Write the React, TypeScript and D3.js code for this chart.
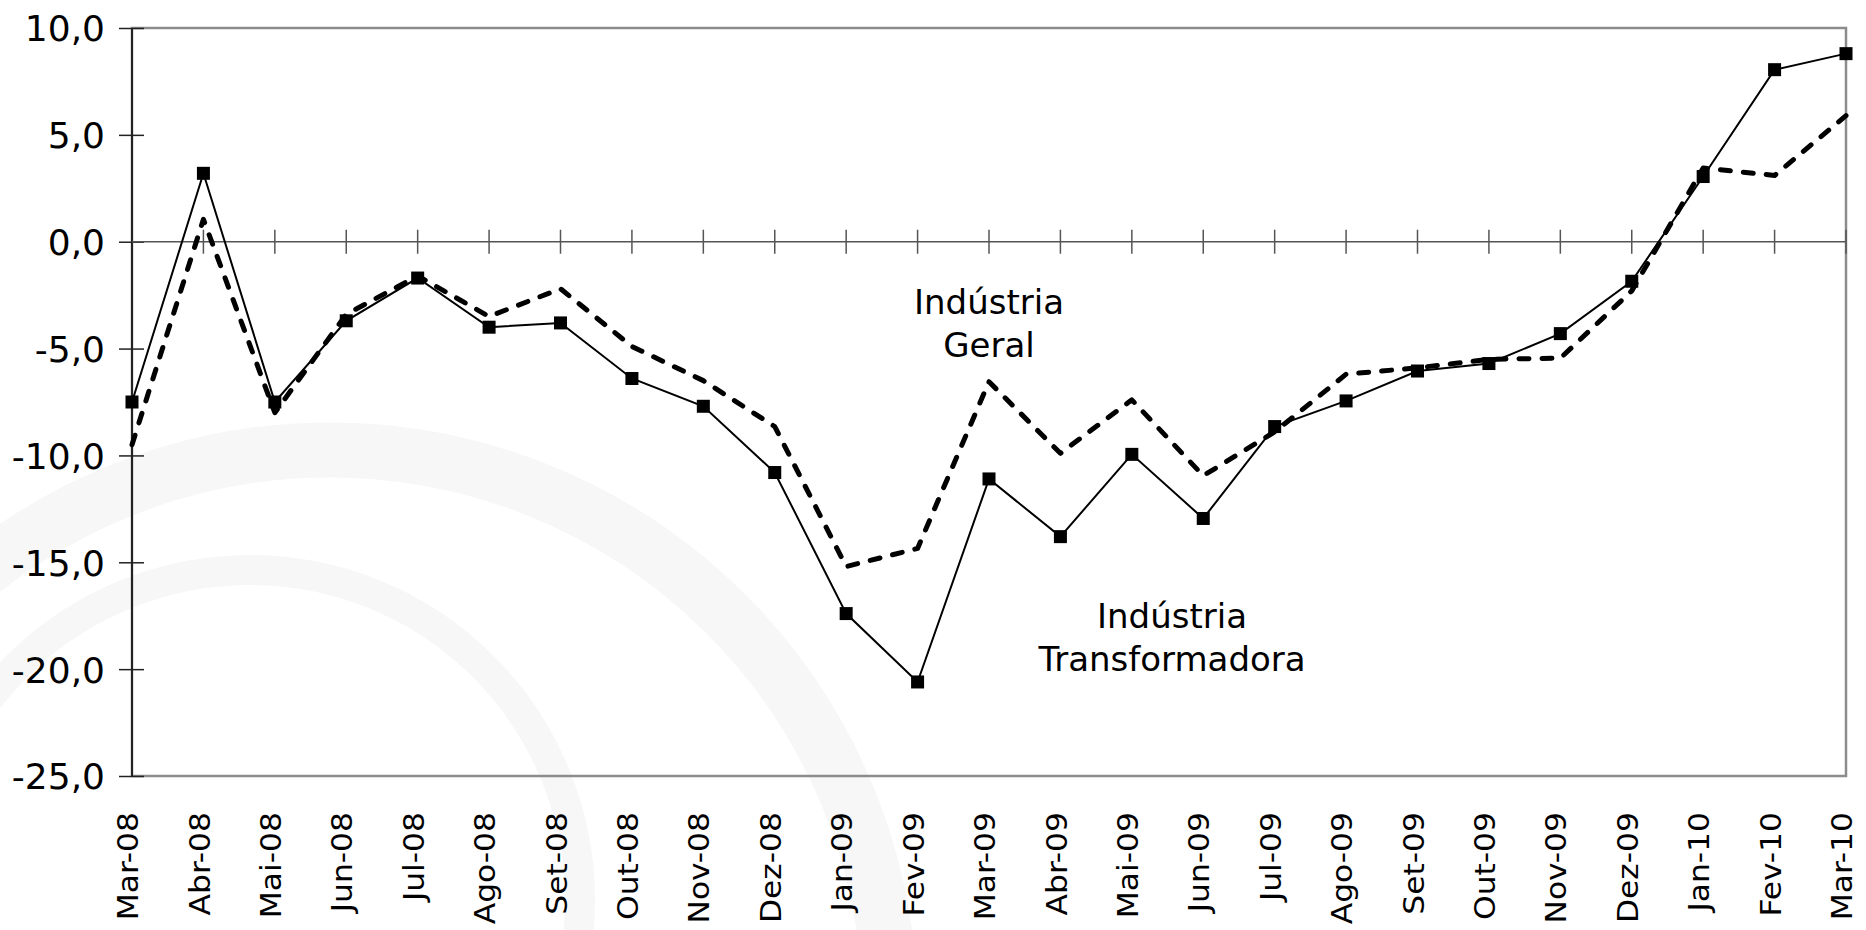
import * as d3 from "d3";
import React, { useEffect, useRef } from "react";

// month labels on the x axis
const months = [
  "Mar-08", "Abr-08", "Mai-08", "Jun-08", "Jul-08", "Ago-08", "Set-08", "Out-08",
  "Nov-08", "Dez-08", "Jan-09", "Fev-09", "Mar-09", "Abr-09", "Mai-09", "Jun-09",
  "Jul-09", "Ago-09", "Set-09", "Out-09", "Nov-09", "Dez-09", "Jan-10", "Fev-10", "Mar-10",
];

// Indústria Transformadora (solid line with square markers)
const transformadora = [
  -7.5, 3.2, -7.5, -3.7, -1.7, -4.0, -3.8, -6.4, -7.7, -10.8, -17.4, -20.6, -11.1,
  -13.8, -9.95, -12.95, -8.65, -7.45, -6.05, -5.7, -4.3, -1.85, 3.05, 8.05, 8.8,
];

// Indústria Geral (dashed line)
const geral = [
  -9.5, 1.05, -8.0, -3.4, -1.6, -3.5, -2.2, -4.9, -6.5, -8.65, -15.2, -14.35, -6.55,
  -9.9, -7.4, -10.95, -8.9, -6.2, -5.9, -5.5, -5.45, -2.3, 3.45, 3.1, 5.9,
];

const yTicks = [10, 5, 0, -5, -10, -15, -20, -25];

const App = () => {
  const ref = useRef<SVGSVGElement>(null);

  useEffect(() => {
    document.body.style.margin = "0";

    const width = 1866;
    const height = 930;
    const margin = { top: 28, right: 20, bottom: 154, left: 132 };
    const innerW = width - margin.left - margin.right;
    const innerH = height - margin.top - margin.bottom;

    const svg = d3.select(ref.current);
    svg.selectAll("*").remove();
    svg.attr("width", width).attr("height", height);

    svg.append("rect").attr("width", width).attr("height", height).attr("fill", "#ffffff");

    // faint watermark in the background
    const wm = svg.append("g").attr("fill", "none").attr("stroke", "#f7f7f7");
    wm.append("circle").attr("cx", 330).attr("cy", 1010).attr("r", 560).attr("stroke-width", 55);
    wm.append("circle").attr("cx", 250).attr("cy", 900).attr("r", 330).attr("stroke-width", 30);

    const g = svg.append("g").attr("transform", `translate(${margin.left}, ${margin.top})`);

    // Scales
    const xScale = d3.scalePoint().domain(months).range([0, innerW]);
    const yScale = d3.scaleLinear().domain([-25, 10]).range([innerH, 0]);

    // plot border (grey) and left axis (black)
    g.append("rect")
      .attr("width", innerW)
      .attr("height", innerH)
      .attr("fill", "none")
      .attr("stroke", "#8c8c8c")
      .attr("stroke-width", 2.5);
    g.append("line")
      .attr("x1", 0).attr("x2", 0)
      .attr("y1", 0).attr("y2", innerH)
      .attr("stroke", "#000")
      .attr("stroke-width", 1.5);

    // y ticks and labels
    const yAxis = d3.axisLeft(yScale)
      .tickValues(yTicks)
      .tickSize(0)
      .tickFormat((d) => d3.format(".1f")(d as number).replace(".", ",").replace("\u2212", "-"));
    const ya = g.append("g").call(yAxis);
    ya.select(".domain").remove();
    ya.selectAll(".tick line").remove();
    ya.selectAll(".tick")
      .append("line")
      .attr("x1", -13).attr("x2", 12)
      .attr("stroke", "#222").attr("stroke-width", 1.5);
    ya.selectAll(".tick text")
      .attr("x", -27)
      .attr("dy", "0.36em")
      .attr("fill", "#000")
      .style("font-family", "'DejaVu Sans', sans-serif")
      .style("font-size", "36px");

    // zero line with month ticks
    const zero = g.append("g").attr("transform", `translate(0, ${yScale(0)})`);
    zero.append("line")
      .attr("x1", 0).attr("x2", innerW)
      .attr("stroke", "#555").attr("stroke-width", 1.5);
    zero.selectAll("line.tk")
      .data(months.slice(1))
      .join("line")
      .attr("class", "tk")
      .attr("x1", (d) => xScale(d)!).attr("x2", (d) => xScale(d)!)
      .attr("y1", -12).attr("y2", 12)
      .attr("stroke", "#555").attr("stroke-width", 1.5);

    // x labels, rotated
    g.append("g")
      .selectAll("text")
      .data(months)
      .join("text")
      .attr("transform", (d) => `translate(${xScale(d)}, ${innerH + 36}) rotate(-90) scale(1.12, 1)`)
      .attr("text-anchor", "end")
      .attr("dy", "0.22em")
      .attr("fill", "#000")
      .style("font-family", "'DejaVu Sans', sans-serif")
      .style("font-size", "28px")
      .text((d) => d);

    // Lines
    const line = d3.line<number>()
      .x((d, i) => xScale(months[i])!)
      .y((d) => yScale(d));

    g.append("path")
      .datum(geral)
      .attr("d", line)
      .attr("fill", "none")
      .attr("stroke", "#000")
      .attr("stroke-width", 5)
      .attr("stroke-linecap", "round")
      .attr("stroke-linejoin", "round")
      .attr("stroke-dasharray", "10,13");

    g.append("path")
      .datum(transformadora)
      .attr("d", line)
      .attr("fill", "none")
      .attr("stroke", "#000")
      .attr("stroke-width", 2);

    g.append("g")
      .selectAll("rect")
      .data(transformadora)
      .join("rect")
      .attr("x", (d, i) => xScale(months[i])! - 6.5)
      .attr("y", (d) => yScale(d) - 6.5)
      .attr("width", 13)
      .attr("height", 13)
      .attr("fill", "#000");

    // series annotations
    const notes = [
      { lines: ["Indústria", "Geral"], x: 989, y: 314 },
      { lines: ["Indústria", "Transformadora"], x: 1172, y: 628 },
    ];
    notes.forEach((n) => {
      const t = svg.append("text")
        .attr("text-anchor", "middle")
        .attr("fill", "#000")
        .style("font-family", "'DejaVu Sans', sans-serif")
        .style("font-size", "34px");
      n.lines.forEach((s, i) => {
        t.append("tspan").attr("x", n.x).attr("y", n.y + i * 43).text(s);
      });
    });
  }, []);

  return <svg ref={ref} style={{ display: "block" }}></svg>;
};

export default App;
